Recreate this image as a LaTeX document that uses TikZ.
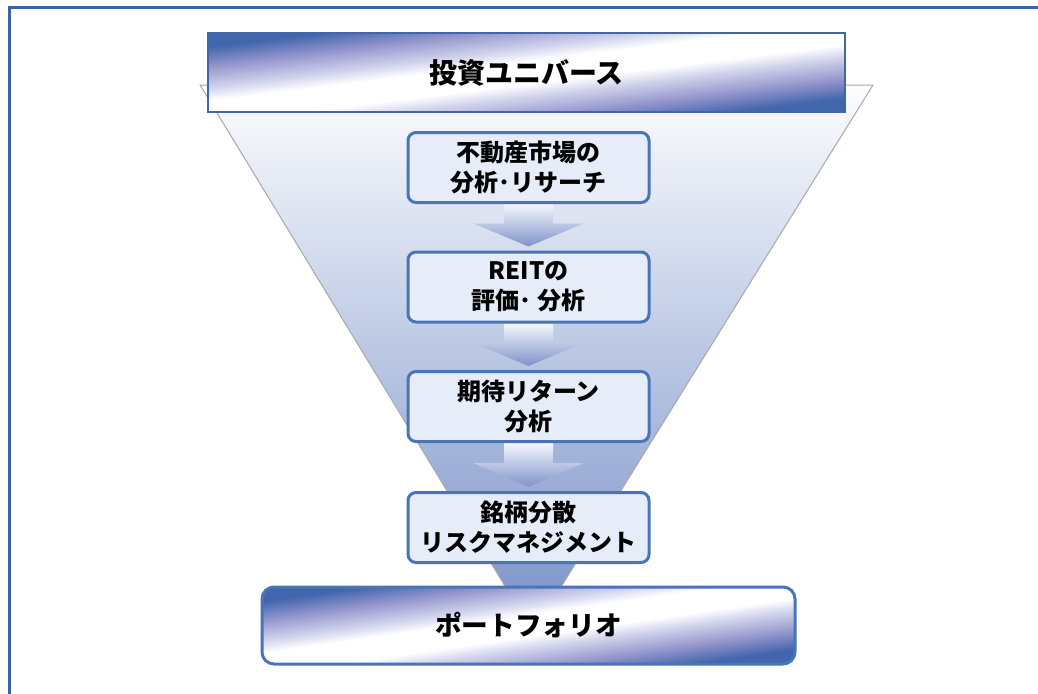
\documentclass[tikz,border=0pt]{standalone}
\usepackage{fontspec}
\newfontfamily\jp{Noto Sans CJK JP}
\usetikzlibrary{calc,backgrounds}
\definecolor{framec}{HTML}{3C62A8}
\definecolor{bdark}{HTML}{4166AC}
\definecolor{blav}{HTML}{9496CC}
\definecolor{blight}{HTML}{D6D8EE}
\definecolor{boxedge}{HTML}{4A74B8}
\definecolor{boxfill}{HTML}{E6EDF8}
\definecolor{funtop}{HTML}{FCFDFE}
\definecolor{funmid}{HTML}{CBD5EC}
\definecolor{funbot}{HTML}{7890C8}
\definecolor{arrtop}{HTML}{F4F7FC}
\definecolor{arrbot}{HTML}{7F92CA}
\definecolor{funedge}{HTML}{A8A8A8}
\pgfdeclareverticalshading{diagbar}{100bp}{color(0bp)=(bdark); color(27bp)=(bdark); color(34bp)=(blav); color(42bp)=(blight); color(46bp)=(white); color(54bp)=(white); color(58bp)=(blight); color(66bp)=(blav); color(73bp)=(bdark); color(100bp)=(bdark)}
\newcommand\flowarrow[2]{%
  \path[arrowshape]
    ($(#1.south)+(-24.5,0)$) -- ($(#1.south)+(24.5,0)$)
    -- ($(#1.south)!0.42!(#2.north)+(24.5,0)$)
    -- ($(#1.south)!0.42!(#2.north)+(55,0)$)
    -- ($(#2.north)+(0,-4)$)
    -- ($(#1.south)!0.42!(#2.north)+(-55,0)$)
    -- ($(#1.south)!0.42!(#2.north)+(-24.5,0)$) -- cycle;}
\begin{document}
\begin{tikzpicture}[x=0.75pt,y=-0.75pt,
  stepbox/.style={draw=boxedge, line width=2.25pt, rounded corners=6pt, fill=boxfill,
    minimum width=180.75pt, minimum height=52.5pt, inner sep=0pt, align=center,
    font=\jp\bfseries\fontsize{18}{22.5}\selectfont},
  barbox/.style={draw=bdark, line width=1.8pt, shade, shading=diagbar,
    inner sep=0pt, align=center},
  arrowshape/.style={top color=arrtop, bottom color=arrbot, draw=none},
  funnelshape/.style={draw=funedge, line width=0.75pt, top color=funtop, middle color=funmid, bottom color=funbot}]
\useasboundingbox (0,0) rectangle (1038,693);
% nodes
\node[barbox, shading angle=7.07, minimum width=477.75pt, minimum height=59.25pt,
  font=\jp\bfseries\fontsize{21}{25}\selectfont] (univ) at (526.5,72.5) {投資ユニバース};
\node[stepbox] (s1) at (528.5,167.5) {不動産市場の\\分析･リサーチ};
\node[stepbox] (s2) at (528.5,287) {REITの\\評価･ 分析};
\node[stepbox] (s3) at (528.5,406.5) {期待リターン\\分析};
\node[stepbox] (s4) at (528.5,527.5) {銘柄分散\\リスクマネジメント};
\node[barbox, shading angle=8.22, draw=boxedge, line width=2.25pt, rounded corners=9pt,
  minimum width=399.75pt, minimum height=57.75pt,
  font=\jp\bfseries\fontsize{20}{24}\selectfont] (port) at (528.5,625.5) {ポートフォリオ};
\begin{pgfonlayer}{background}
  \fill[white] (0,0) rectangle (1038,693);
  \path[funnelshape] (200,85) -- (873,85) -- (533,632) -- cycle;
  \flowarrow{s1}{s2}
  \flowarrow{s2}{s3}
  \flowarrow{s3}{s4}
\end{pgfonlayer}
% outer frame (only top and left edges are visible)
\draw[framec, line width=2.25pt] (9,705) -- (9,7) -- (1050,7);
\end{tikzpicture}
\end{document}
